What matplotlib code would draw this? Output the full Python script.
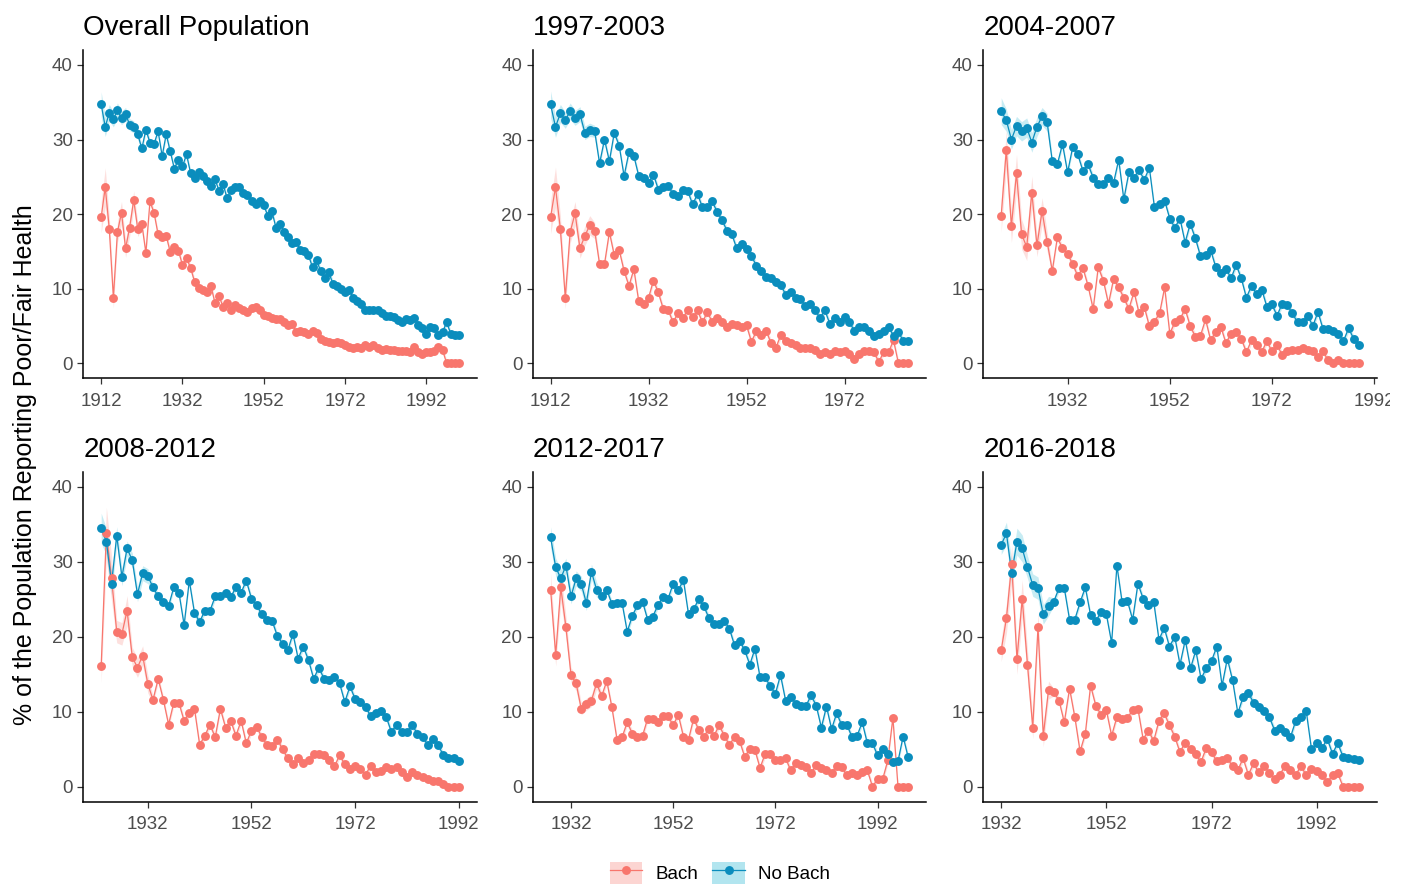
import matplotlib
matplotlib.use('Agg')
import matplotlib.pyplot as plt
import numpy as np
from matplotlib.patches import Patch
from matplotlib.lines import Line2D
from matplotlib.legend_handler import HandlerTuple
from matplotlib.transforms import Bbox, TransformedBbox

plt.rcParams['font.family'] = ['Liberation Sans', 'DejaVu Sans']

# ---------------- data ----------------
titles = ["Overall Population", "1997-2003", "2004-2007",
          "2008-2012", "2012-2017", "2016-2018"]
series_labels = ["Bach", "No Bach"]

p1_years = np.arange(1912, 2001)
p2_years = np.arange(1912, 1986)
p3_years = np.arange(1919, 1990)
p4_years = np.arange(1923, 1993)
p5_years = np.arange(1928, 1999)
p6_years = np.arange(1932, 2001)

p1_nobach = [34.7, 31.7, 33.6, 32.7, 33.9, 32.9, 33.4, 32.0, 31.7, 30.7,
             28.8, 31.3, 29.6, 29.4, 31.1, 27.8, 30.7, 28.4, 26.1, 27.3,
             26.4, 28.0, 25.5, 24.9, 25.6, 25.1, 24.4, 23.8, 24.7, 23.1,
             24.0, 22.1, 23.3, 23.7, 23.7, 22.9, 22.5, 21.8, 21.3, 21.8,
             21.2, 19.8, 20.4, 18.2,
             18.7, 17.6, 16.9, 16.1, 16.3, 15.2, 15.0, 14.5, 12.9, 13.8,
             12.4, 11.4, 12.2, 10.7, 10.4, 10.0, 9.6, 9.9, 8.8, 8.4,
             7.9, 7.1, 7.2, 7.1, 7.1, 6.7, 6.4, 6.4, 6.2, 5.8,
             5.5, 5.9, 5.8, 6.1, 5.1, 4.7, 4.0, 4.9, 4.7, 3.8,
             4.2, 5.5, 4.0, 3.8, 3.8]
p1_bach = [19.6, 23.6, 18.0, 8.8, 17.6, 20.2, 15.4, 18.2, 21.9, 18.0,
           18.7, 14.8, 21.7, 20.2, 17.3, 16.9, 17.1, 14.9, 15.6, 15.1,
           13.2, 14.1, 12.8, 10.9, 10.1, 9.9, 9.6, 10.4, 8.1, 9.0,
           7.6, 8.1, 7.2, 7.8, 7.4, 7.2, 6.9, 7.4, 7.6, 7.2,
           6.5, 6.4, 6.1, 5.9,
           5.9, 5.5, 5.1, 5.3, 4.2, 4.4, 4.2, 4.0, 4.4, 4.1,
           3.3, 3.0, 2.9, 2.7, 2.8, 2.7, 2.5, 2.2, 2.0, 2.2,
           2.1, 2.5, 2.2, 2.4, 2.0, 1.8, 1.9, 1.8, 1.8, 1.6,
           1.6, 1.6, 1.5, 2.2, 1.5, 1.2, 1.5, 1.5, 1.6, 2.2,
           1.8, 0.0, 0.0, 0.0, 0.0]

p2_nobach = [34.7, 31.7, 33.5, 32.6, 33.8, 32.9, 33.4, 30.9, 31.3, 31.1,
             26.8, 30.0, 27.1, 30.9, 29.2, 25.1, 28.3, 27.8, 25.1, 24.9,
             24.2, 25.3, 23.3, 23.6, 23.8, 22.7, 22.4, 23.2, 23.1, 21.3,
             22.7, 20.9, 21.0, 21.7,
             20.3, 19.2, 17.8, 17.3, 15.4, 16.0, 15.3, 14.4, 13.1, 12.4,
             11.6, 11.4, 10.9, 10.5, 9.2, 9.6, 8.8, 8.6, 7.7, 8.0,
             7.1, 6.1, 7.1, 5.3, 6.1, 5.6, 6.2, 5.5, 4.4, 4.9,
             4.9, 4.4, 3.7, 4.0, 4.3, 4.9, 3.7, 4.2, 3.0, 3.0]
p2_bach = [19.6, 23.6, 18.0, 8.8, 17.6, 20.1, 15.4, 17.1, 18.5, 17.8,
           13.3, 13.3, 17.6, 14.5, 15.2, 12.4, 10.4, 12.6, 8.3, 7.9,
           8.8, 11.1, 9.5, 7.3, 7.2, 5.5, 6.7, 6.1, 7.1, 6.2,
           7.1, 5.5, 6.9, 5.5,
           6.1, 5.6, 4.9, 5.3, 5.1, 4.9, 5.1, 2.9, 4.3, 3.8,
           4.4, 2.7, 2.1, 3.8, 3.0, 2.7, 2.4, 2.1, 2.1, 2.0,
           1.8, 1.2, 1.5, 1.3, 1.6, 1.5, 1.6, 1.3, 0.6, 1.3,
           1.6, 1.6, 1.5, 0.2, 1.5, 1.5, 3.1, 0.0, 0.0, 0.0]

p3_nobach = [33.8, 32.6, 30.0, 31.8, 31.1, 31.6, 29.6, 31.7, 33.1, 32.3,
             27.1, 26.7, 29.4, 25.6, 29.0, 28.0, 25.8, 26.7, 24.9, 24.0,
             24.0, 24.9, 24.2, 27.3, 22.0, 25.6, 24.9, 25.9, 24.6, 26.2,
             20.9, 21.3, 21.8,
             19.4, 18.2, 19.4, 16.2, 18.7, 16.8, 14.4, 14.5, 15.2, 12.9,
             12.1, 12.7, 11.4, 13.2, 11.4, 8.8, 10.4, 9.3, 9.9, 7.6,
             7.9, 6.4, 8.0, 7.8, 6.7, 5.5, 5.6, 6.4, 5.0, 6.9,
             4.6, 4.6, 4.3, 3.9, 3.0, 4.7, 3.3, 2.5]
p3_bach = [19.8, 28.6, 18.4, 25.5, 17.3, 15.6, 22.9, 15.8, 20.4, 16.3,
           12.4, 16.9, 15.4, 14.7, 13.3, 11.7, 12.8, 10.4, 7.3, 12.9,
           11.1, 8.0, 11.3, 10.2, 8.8, 7.3, 9.6, 6.7, 7.6, 5.0,
           5.6, 6.7, 10.2,
           4.0, 5.5, 5.9, 7.3, 5.0, 3.6, 3.7, 5.9, 3.1, 4.2,
           4.9, 2.7, 4.0, 4.2, 3.3, 1.5, 3.1, 2.4, 1.5, 3.0,
           1.6, 2.5, 1.1, 1.6, 1.8, 1.8, 2.1, 1.8, 1.6, 0.9,
           1.6, 0.4, 0.0, 0.4, 0.1, 0.0, 0.0, 0.0]

p4_nobach = [34.5, 32.7, 27.1, 33.5, 28.0, 31.8, 30.2, 25.7, 28.5, 28.1,
             26.6, 25.4, 24.7, 24.1, 26.6, 25.9, 21.6, 27.5, 23.2, 22.0,
             23.5, 23.5, 25.4, 25.4, 25.9, 25.3, 26.6, 25.9, 27.5, 25.1,
             24.2, 23.0, 22.2,
             22.1, 20.1, 19.1, 18.2, 20.4, 17.1, 18.7, 16.9, 14.4, 15.9,
             14.4, 14.3, 14.7, 13.8, 11.3, 13.4, 11.7, 11.3, 10.7, 9.4,
             9.8, 10.1, 9.3, 7.3, 8.3, 7.3, 7.3, 8.2, 7.1, 6.7,
             5.6, 6.4, 5.6, 4.2, 3.8, 3.8, 3.4]
p4_bach = [16.1, 33.8, 27.8, 20.7, 20.4, 23.5, 17.3, 15.9, 17.5, 13.7,
           11.6, 14.4, 11.6, 8.3, 11.2, 11.2, 8.8, 9.8, 10.4, 5.6,
           6.8, 8.3, 6.6, 10.4, 7.9, 8.8, 6.8, 8.8, 5.8, 7.5,
           8.0, 6.6, 5.6,
           5.5, 6.3, 5.0, 3.8, 3.0, 3.8, 3.1, 3.6, 4.4, 4.4,
           4.2, 3.6, 2.7, 4.2, 3.0, 2.4, 2.8, 2.4, 1.6, 2.8,
           1.9, 2.1, 2.6, 2.4, 2.6, 1.9, 1.3, 1.9, 1.5, 1.3,
           1.0, 0.8, 0.7, 0.3, 0.0, 0.0, 0.0]

p5_nobach = [33.3, 29.3, 27.8, 29.5, 25.4, 27.8, 27.1, 24.5, 28.7, 26.3,
             25.4, 26.3, 24.4, 24.5, 24.5, 20.7, 22.8, 24.2, 24.7, 22.3,
             22.7, 24.2, 25.3, 25.1, 27.1, 26.2, 27.6, 23.0, 23.7, 25.0,
             24.1, 22.5, 21.7,
             21.7, 22.1, 21.1, 18.9, 19.5, 18.2, 16.3, 18.4, 14.6, 14.6,
             13.4, 12.4, 14.9, 11.5, 12.0, 11.1, 10.8, 10.8, 12.2, 10.8,
             7.9, 10.7, 7.7, 9.8, 8.2, 8.3, 6.6, 6.8, 8.6, 5.8,
             5.8, 4.2, 5.0, 4.4, 3.3, 3.4, 6.7, 3.9]
p5_bach = [26.3, 17.6, 26.6, 21.3, 14.9, 13.8, 10.4, 11.0, 11.5, 13.8,
           12.1, 14.1, 10.6, 6.3, 6.6, 8.6, 7.1, 6.7, 6.8, 9.1,
           9.1, 8.6, 9.4, 9.4, 8.2, 9.6, 6.7, 6.3, 9.1, 7.6,
           6.7, 7.7, 6.8,
           8.2, 6.8, 5.6, 6.6, 6.1, 4.0, 5.0, 4.9, 2.5, 4.4,
           4.4, 3.6, 3.5, 3.8, 2.2, 3.1, 2.9, 2.6, 1.8, 2.9,
           2.5, 2.2, 1.8, 2.8, 2.6, 1.5, 1.8, 1.5, 1.9, 2.2,
           0.0, 1.0, 1.0, 3.5, 9.2, 0.0, 0.0, 0.0]

p6_nobach = [32.3, 33.8, 28.5, 32.7, 31.8, 29.3, 26.9, 26.5, 23.0, 24.1,
             24.7, 26.5, 26.5, 22.3, 22.3, 24.6, 26.6, 22.9, 22.1, 23.3,
             23.0, 19.2, 29.5, 24.6, 24.8, 22.3, 27.1, 25.1, 24.2, 24.7,
             19.6, 21.2,
             18.7, 20.0, 16.3, 19.6, 15.8, 18.2, 14.4, 15.8, 16.8, 18.7,
             13.5, 17.1, 14.2, 9.8, 12.0, 12.5, 11.2, 10.6, 10.1, 9.3,
             7.5, 7.9, 7.3, 6.6, 8.8, 9.3, 10.1, 5.0, 5.8, 5.1,
             6.4, 4.4, 5.8, 4.0, 3.8, 3.7, 3.5]
p6_bach = [18.2, 22.5, 29.7, 17.0, 25.1, 16.3, 7.9, 21.3, 6.8, 12.9,
           12.6, 11.5, 8.6, 13.1, 9.3, 4.7, 7.1, 13.5, 10.8, 9.6,
           10.2, 6.8, 9.3, 9.1, 9.2, 10.2, 10.4, 6.3, 7.5, 6.1,
           8.8, 9.8,
           8.2, 6.7, 4.6, 5.9, 5.0, 4.3, 3.3, 5.2, 4.6, 3.4,
           3.6, 3.8, 2.7, 2.2, 3.8, 1.6, 3.1, 1.9, 2.8, 1.8,
           1.0, 1.6, 2.8, 2.2, 1.5, 2.8, 1.5, 2.4, 2.1, 1.6,
           0.6, 1.5, 1.8, 0.0, 0.0, 0.0, 0.0]

# half-widths of the confidence ribbons for the earliest cohorts
p1_bach_ci = [2.1, 2.6, 1.6, 1.4, 1.4, 1.5, 1.2, 1.2, 1.2, 1.0]
p1_nobach_ci = [1.7, 1.3, 1.1, 1.0, 1.0, 0.9, 0.9, 0.8, 0.8, 0.7]
p2_bach_ci = [2.2, 2.7, 1.8, 1.5, 1.5, 1.6, 1.3, 1.3, 1.3, 1.1]
p2_nobach_ci = [1.8, 1.4, 1.2, 1.1, 1.1, 1.0, 1.0, 0.9, 0.9, 0.8]
p3_bach_ci = [2.2, 2.6, 2.2, 2.5, 2.0, 1.8, 2.2, 1.5, 1.8, 1.3]
p3_nobach_ci = [1.8, 1.5, 1.3, 1.3, 1.3, 1.3, 1.3, 1.3, 1.2, 1.2]
p4_bach_ci = [2.2, 3.5, 3.0, 1.5, 1.5, 2.0, 1.3, 1.3, 1.3, 1.2]
p4_nobach_ci = [2.0, 1.8, 1.5, 1.2, 1.2, 1.0, 1.0, 1.0, 1.0, 1.0]
p5_bach_ci = [2.2, 1.5, 2.0, 1.5, 1.0, 1.0, 0.8, 0.8, 0.8, 0.8]
p5_nobach_ci = [1.4, 1.2, 1.2, 1.0, 1.0, 1.0, 1.0, 1.0, 1.0, 1.0]
p6_bach_ci = [1.5, 2.0, 2.5, 2.0, 2.5, 2.0, 1.5, 2.0, 1.5, 1.2]
p6_nobach_ci = [1.3, 1.5, 1.5, 1.8, 1.8, 1.5, 1.5, 1.5, 1.3, 1.3]

p1_xticks = [1912, 1932, 1952, 1972, 1992]
p2_xticks = [1912, 1932, 1952, 1972]
p3_xticks = [1932, 1952, 1972, 1992]
p4_xticks = [1932, 1952, 1972, 1992]
p5_xticks = [1932, 1952, 1972, 1992]
p6_xticks = [1932, 1952, 1972, 1992]
yticks = [0, 10, 20, 30, 40]

panels = [
    (titles[0], p1_years, p1_bach, p1_nobach, p1_bach_ci, p1_nobach_ci, p1_xticks),
    (titles[1], p2_years, p2_bach, p2_nobach, p2_bach_ci, p2_nobach_ci, p2_xticks),
    (titles[2], p3_years, p3_bach, p3_nobach, p3_bach_ci, p3_nobach_ci, p3_xticks),
    (titles[3], p4_years, p4_bach, p4_nobach, p4_bach_ci, p4_nobach_ci, p4_xticks),
    (titles[4], p5_years, p5_bach, p5_nobach, p5_bach_ci, p5_nobach_ci, p5_xticks),
    (titles[5], p6_years, p6_bach, p6_nobach, p6_bach_ci, p6_nobach_ci, p6_xticks),
]

for t, yrs, b, n, _, _, _ in panels:
    if len(b) != len(yrs) or len(n) != len(yrs):
        raise ValueError(f"{t}: years {len(yrs)} bach {len(b)} nobach {len(n)}")

# ---------------- style ----------------
RED = '#F8766D'
BLUE = '#0A8DBD'
RED_FILL = '#F8766D'
BLUE_FILL = '#23B5D3'
MS = 6.4
W, H = 1404, 885

fig = plt.figure(figsize=(W / 100, H / 100), dpi=100)

lefts = [83.3, 532.7, 983.3]
tops = [50.0, 472.0]
bottoms = [378.3, 801.7]
axw = 393.4

label_clip = TransformedBbox(Bbox([[0, 0], [1390 / W, 1]]), fig.transFigure)


def ci_array(early, n, default):
    arr = np.full(n, default)
    arr[:len(early)] = early
    return arr


for i, (title, yrs, bach, nobach, bci, nci, xt) in enumerate(panels):
    r, c = divmod(i, 3)
    ax = fig.add_axes([lefts[c] / W, 1 - bottoms[r] / H, axw / W,
                       (bottoms[r] - tops[r]) / H])
    bach = np.asarray(bach)
    nobach = np.asarray(nobach)
    bw = ci_array(bci, len(yrs), 0.5)
    nw = ci_array(nci, len(yrs), 0.5)

    ax.fill_between(yrs, np.clip(bach - bw, 0, None), bach + bw,
                    color=RED_FILL, alpha=0.22, lw=0, zorder=1)
    ax.fill_between(yrs, nobach - nw, nobach + nw,
                    color=BLUE_FILL, alpha=0.25, lw=0, zorder=1)
    ax.plot(yrs, bach, color=RED, lw=0.9, zorder=2)
    ax.plot(yrs, nobach, color=BLUE, lw=0.9, zorder=2)
    ax.plot(yrs, bach, 'o', color=RED, ms=MS, mew=0, zorder=3)
    ax.plot(yrs, nobach, 'o', color=BLUE, ms=MS, mew=0, zorder=3)

    span = yrs[-1] - yrs[0]
    ax.set_xlim(yrs[0] - 0.05 * span, yrs[-1] + 0.05 * span)
    ax.set_ylim(-2, 42)
    ax.set_xticks(xt)
    ax.set_yticks(yticks)

    for s in ['top', 'right']:
        ax.spines[s].set_visible(False)
    for s in ['left', 'bottom']:
        ax.spines[s].set_linewidth(1.1)
        ax.spines[s].set_color('black')
    ax.tick_params(axis='both', length=4.5, width=0.9, color='#333333',
                   labelcolor='#4D4D4D', labelsize=13.5)
    ax.tick_params(axis='y', pad=3)
    ax.tick_params(axis='x', pad=6)
    for lab in ax.get_xticklabels():
        lab.set_clip_on(True)
        lab.set_clip_box(label_clip)

    ax.annotate(title, xy=(0, 1), xycoords='axes fraction',
                xytext=(0, 11), textcoords='offset points',
                ha='left', va='baseline', fontsize=20, color='black')

fig.text(25 / W, 1 - 465 / H, '% of the Population Reporting Poor/Fair Health',
         rotation=90, ha='center', va='center', fontsize=18, color='black')

handles = [
    (Patch(facecolor=RED_FILL, alpha=0.3, edgecolor='none'),
     Line2D([], [], color=RED, lw=0.9, marker='o', ms=MS, mew=0)),
    (Patch(facecolor=BLUE_FILL, alpha=0.35, edgecolor='none'),
     Line2D([], [], color=BLUE, lw=0.9, marker='o', ms=MS, mew=0)),
]
fig.legend(handles, series_labels,
           handler_map={tuple: HandlerTuple(ndivide=1, pad=0)},
           loc='center', bbox_to_anchor=(720 / W, 1 - 873 / H), ncol=2,
           frameon=False, fontsize=13.5, handlelength=1.75, handleheight=1.5,
           handletextpad=0.7, columnspacing=0.75, labelcolor='black')

fig.savefig('out.png', dpi=100)
